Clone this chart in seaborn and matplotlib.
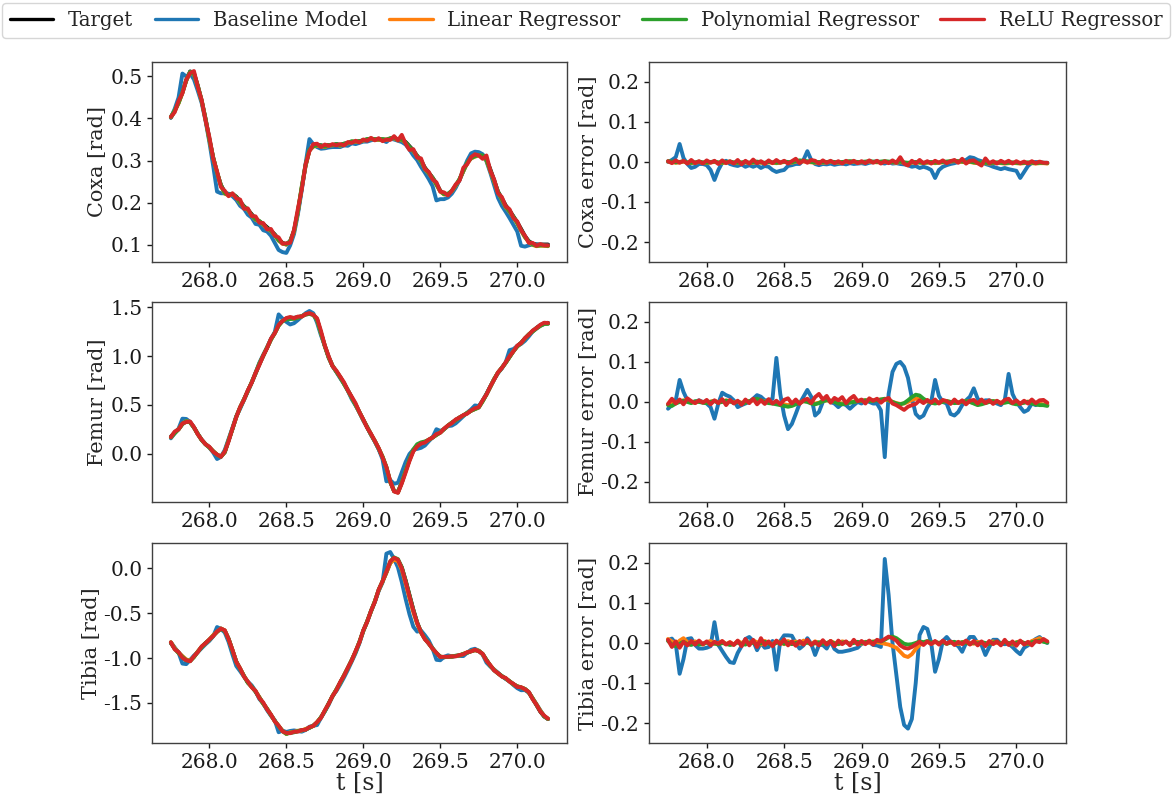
import numpy as np
import pandas as pd
import matplotlib
matplotlib.use("Agg")
import matplotlib.pyplot as plt
import seaborn as sns

# ---------------- data ----------------
t = np.round(267.75 + 0.025 * np.arange(99), 3)   # sample times [s]

models = ["Target", "Baseline Model", "Linear Regressor", "Polynomial Regressor", "ReLU Regressor"]
colors = ["#000000", "#1f77b4", "#ff7f0e", "#2ca02c", "#d62728"]
joints = ["Coxa", "Femur", "Tibia"]
xticks = [268.0, 268.5, 269.0, 269.5, 270.0]
value_yticks = {
    "Coxa": [0.1, 0.2, 0.3, 0.4, 0.5],
    "Femur": [0.0, 0.5, 1.0, 1.5],
    "Tibia": [-1.5, -1.0, -0.5, 0.0],
}
error_yticks = [-0.2, -0.1, 0.0, 0.1, 0.2]

coxa_target = [
    0.402, 0.418, 0.438, 0.462, 0.490, 0.512, 0.508, 0.478, 0.442, 0.400,
    0.352, 0.307, 0.271, 0.242, 0.224, 0.218, 0.220, 0.214, 0.202, 0.191,
    0.183, 0.172, 0.161, 0.155, 0.149, 0.141, 0.133, 0.124, 0.112, 0.104,
    0.100, 0.108, 0.133, 0.177, 0.234, 0.287, 0.324, 0.334, 0.337, 0.336,
    0.334, 0.337, 0.336, 0.339, 0.337, 0.340, 0.341, 0.344, 0.344, 0.346,
    0.348, 0.350, 0.350, 0.350, 0.350, 0.350, 0.348, 0.352, 0.354, 0.350,
    0.349, 0.344, 0.334, 0.324, 0.311, 0.300, 0.283, 0.271, 0.259, 0.245,
    0.228, 0.220, 0.220, 0.226, 0.238, 0.254, 0.275, 0.295, 0.305, 0.311,
    0.315, 0.313, 0.303, 0.279, 0.253, 0.226, 0.210, 0.193, 0.181, 0.167,
    0.153, 0.137, 0.120, 0.108, 0.102, 0.100, 0.100, 0.100, 0.100]
coxa_err_baseline = [
    0.000, 0.005, 0.012, 0.045, 0.010, -0.005, -0.015, -0.012, -0.005, -0.005,
    -0.008, -0.020, -0.045, -0.020, -0.002, 0.003, -0.005, -0.008, -0.010, -0.006,
    -0.012, -0.008, -0.012, -0.008, -0.015, -0.010, -0.012, -0.020, -0.025, -0.022,
    -0.020, -0.010, -0.008, -0.005, -0.005, 0.005, 0.027, 0.005, -0.005, -0.008,
    -0.005, -0.006, -0.004, -0.007, -0.005, -0.004, -0.006, -0.003, -0.005, -0.004,
    -0.003, -0.005, -0.002, 0.000, 0.002, -0.002, -0.004, 0.000, -0.004, -0.003,
    -0.005, -0.006, -0.008, -0.012, -0.010, -0.015, -0.012, -0.015, -0.020, -0.040,
    -0.020, -0.012, -0.008, -0.005, -0.003, 0.000, 0.003, 0.005, 0.012, 0.010,
    0.005, 0.002, -0.005, -0.008, -0.012, -0.015, -0.018, -0.015, -0.018, -0.020,
    -0.022, -0.040, -0.025, -0.010, -0.002, 0.000, -0.001, -0.002, -0.002]
coxa_err_linear = [
    0.001, 0.000, -0.002, -0.001, 0.001, -0.002, -0.003, -0.002, 0.000, -0.002,
    -0.003, -0.001, 0.000, -0.002, -0.003, -0.001, 0.000, -0.002, -0.003, -0.002,
    -0.001, -0.003, -0.002, 0.000, -0.002, -0.003, -0.001, -0.002, -0.003, -0.002,
    0.000, -0.001, -0.002, 0.001, 0.002, 0.001, 0.000, -0.001, -0.002, -0.001,
    -0.002, -0.001, 0.000, -0.001, -0.002, -0.001, 0.000, 0.001, 0.000, -0.001,
    -0.001, 0.000, 0.001, 0.000, -0.001, 0.000, 0.001, 0.000, -0.001, -0.002,
    0.000, -0.002, -0.003, -0.002, -0.001, -0.002, -0.003, -0.002, -0.001, -0.003,
    -0.002, -0.001, 0.000, 0.001, 0.002, 0.001, 0.000, -0.001, 0.000, -0.002,
    -0.003, -0.002, -0.003, -0.004, -0.003, -0.002, -0.003, -0.004, -0.003, -0.002,
    -0.003, -0.004, -0.003, -0.002, -0.003, -0.004, -0.003, -0.003, -0.004]
coxa_err_poly = [
    0.002, 0.001, -0.001, 0.000, 0.002, -0.001, -0.002, -0.001, 0.001, -0.001,
    -0.002, 0.000, 0.001, -0.001, -0.002, 0.000, 0.001, -0.001, -0.002, -0.001,
    0.000, -0.002, -0.001, 0.001, -0.001, -0.002, 0.000, -0.001, -0.002, -0.001,
    0.001, 0.000, -0.001, 0.002, 0.004, 0.003, 0.002, 0.000, -0.001, 0.000,
    -0.001, 0.000, 0.001, 0.000, -0.001, 0.000, 0.001, 0.002, 0.001, 0.000,
    0.000, 0.001, 0.002, 0.001, 0.000, 0.001, 0.002, 0.001, 0.000, -0.001,
    0.001, -0.001, -0.002, -0.001, 0.000, -0.001, -0.002, -0.001, 0.000, -0.002,
    -0.001, 0.000, 0.001, 0.002, 0.003, 0.002, 0.001, 0.000, 0.001, -0.001,
    -0.002, -0.001, -0.002, -0.003, -0.002, -0.001, -0.002, -0.003, -0.002, -0.001,
    -0.002, -0.003, -0.002, -0.001, -0.002, -0.003, -0.002, -0.002, -0.003]
coxa_err_relu = [
    0.002, -0.003, 0.004, -0.002, 0.003, -0.004, 0.005, -0.003, 0.002, -0.004,
    0.004, -0.002, 0.003, -0.005, 0.004, -0.003, 0.002, -0.004, 0.005, -0.006,
    0.003, -0.004, 0.006, -0.003, 0.002, -0.005, 0.004, -0.003, 0.005, -0.002,
    0.003, -0.004, 0.002, 0.008, -0.003, 0.004, -0.002, 0.005, 0.003, -0.004,
    0.004, -0.002, 0.003, -0.003, 0.002, -0.004, 0.003, -0.002, 0.003, -0.003,
    0.002, -0.003, 0.004, -0.002, 0.003, -0.004, 0.002, -0.003, 0.004, -0.002,
    0.012, -0.004, -0.009, 0.003, -0.004, 0.005, -0.003, 0.002, -0.004, 0.003,
    -0.002, 0.004, -0.003, 0.002, 0.005, -0.002, 0.008, -0.004, 0.003, 0.004,
    -0.003, -0.009, 0.009, -0.003, 0.002, -0.004, 0.003, -0.002, 0.003, -0.004,
    0.002, -0.003, 0.001, -0.004, 0.002, -0.003, 0.001, -0.002, -0.002]

femur_target = [
    0.176, 0.220, 0.254, 0.305, 0.332, 0.322, 0.271, 0.203, 0.142, 0.100,
    0.068, 0.027, -0.010, -0.027, 0.017, 0.136, 0.254, 0.380, 0.475, 0.559,
    0.644, 0.729, 0.820, 0.915, 1.000, 1.085, 1.170, 1.237, 1.315, 1.363,
    1.383, 1.390, 1.390, 1.397, 1.407, 1.424, 1.430, 1.424, 1.373, 1.237,
    1.102, 0.983, 0.898, 0.841, 0.786, 0.719, 0.651, 0.576, 0.502, 0.424,
    0.346, 0.271, 0.197, 0.129, 0.051, -0.034, -0.142, -0.288, -0.380, -0.390,
    -0.288, -0.170, -0.061, 0.034, 0.081, 0.102, 0.119, 0.142, 0.169, 0.197,
    0.220, 0.254, 0.288, 0.319, 0.346, 0.373, 0.393, 0.417, 0.441, 0.461,
    0.481, 0.542, 0.610, 0.685, 0.763, 0.830, 0.881, 0.932, 0.990, 1.051,
    1.102, 1.136, 1.180, 1.220, 1.254, 1.288, 1.315, 1.335, 1.339]
femur_err_baseline = [
    -0.017, -0.008, 0.004, 0.055, 0.025, 0.004, 0.000, 0.000, 0.004, 0.000,
    -0.004, -0.013, -0.042, -0.004, 0.023, 0.017, 0.013, 0.004, -0.013, -0.008,
    -0.004, 0.000, 0.008, 0.017, 0.013, 0.004, 0.004, 0.008, 0.110, 0.020,
    -0.034, -0.068, -0.055, -0.030, -0.004, 0.013, 0.030, 0.013, -0.034, -0.025,
    0.000, 0.008, 0.000, -0.004, -0.013, -0.004, -0.008, -0.017, -0.008, 0.000,
    -0.004, 0.004, 0.000, -0.004, -0.004, -0.021, -0.138, 0.020, 0.075, 0.095,
    0.100, 0.088, 0.060, 0.010, -0.030, -0.040, -0.034, -0.013, 0.000, 0.055,
    0.015, 0.000, -0.004, -0.030, -0.034, -0.025, -0.008, 0.004, 0.013, 0.034,
    0.008, 0.000, 0.004, 0.004, 0.000, -0.004, -0.008, 0.004, 0.070, 0.020,
    0.000, -0.013, -0.025, -0.020, -0.004, -0.008, -0.004, -0.008, -0.008]
femur_err_linear = [
    -0.006, -0.004, -0.002, 0.002, 0.004, 0.002, 0.000, -0.002, 0.001, 0.000,
    -0.002, 0.001, 0.003, -0.001, 0.001, 0.004, 0.002, -0.001, 0.001, -0.002,
    -0.001, 0.002, 0.004, 0.006, 0.003, 0.001, -0.002, -0.003, -0.004, -0.005,
    -0.006, -0.008, -0.006, -0.004, -0.001, 0.002, 0.001, -0.002, -0.004, -0.002,
    0.002, 0.004, 0.003, 0.001, -0.002, -0.004, -0.003, -0.001, 0.001, 0.002,
    0.003, 0.004, 0.003, 0.004, 0.005, 0.006, 0.006, 0.004, 0.000, -0.003,
    -0.005, -0.004, 0.000, 0.005, 0.008, 0.007, 0.004, 0.001, -0.001, -0.003,
    -0.001, 0.001, 0.002, 0.000, -0.002, -0.001, 0.001, 0.002, 0.000, -0.003,
    -0.005, -0.004, -0.002, 0.000, 0.002, 0.001, -0.002, -0.001, 0.001, -0.002,
    -0.004, -0.003, -0.001, 0.001, -0.002, -0.004, -0.005, -0.006, -0.007]
femur_err_poly = [
    -0.008, -0.010, -0.004, 0.000, 0.003, 0.000, -0.003, 0.002, 0.000, -0.002,
    -0.003, 0.000, 0.002, -0.002, 0.000, 0.003, 0.001, -0.002, 0.000, -0.003,
    -0.002, 0.002, 0.005, 0.008, 0.004, 0.000, -0.003, -0.004, -0.006, -0.008,
    -0.010, -0.012, -0.010, -0.006, -0.002, 0.002, 0.000, -0.004, -0.006, -0.003,
    0.002, 0.004, 0.003, 0.000, -0.004, -0.006, -0.004, -0.002, 0.000, 0.002,
    0.003, 0.004, 0.002, 0.003, 0.004, 0.006, 0.008, 0.005, 0.000, -0.004,
    -0.006, -0.003, 0.004, 0.012, 0.018, 0.016, 0.008, 0.002, -0.002, -0.004,
    -0.002, 0.000, 0.002, 0.000, -0.003, -0.002, 0.000, 0.002, 0.000, -0.004,
    -0.008, -0.006, -0.003, 0.000, 0.002, 0.000, -0.003, -0.002, 0.000, -0.004,
    -0.006, -0.004, -0.002, 0.000, -0.004, -0.006, -0.008, -0.008, -0.010]
femur_err_relu = [
    -0.005, 0.008, -0.004, 0.006, -0.006, 0.009, 0.002, -0.003, 0.004, -0.002,
    0.005, -0.006, 0.004, -0.003, 0.007, -0.008, 0.005, -0.004, 0.003, -0.007,
    0.006, -0.003, 0.008, -0.006, 0.004, -0.005, 0.007, -0.004, 0.003, -0.006,
    0.005, 0.009, -0.004, 0.006, -0.005, 0.004, 0.008, -0.003, 0.012, 0.020,
    0.006, 0.015, -0.002, 0.010, 0.004, 0.012, -0.003, 0.008, 0.015, 0.002,
    0.006, -0.004, 0.009, 0.003, 0.008, -0.002, 0.006, 0.010, -0.004, -0.008,
    -0.014, -0.020, -0.012, -0.008, -0.005, 0.004, -0.003, 0.005, -0.002, 0.006,
    -0.004, 0.005, 0.002, -0.005, 0.006, -0.003, 0.004, -0.006, 0.003, 0.005,
    -0.004, 0.006, -0.003, 0.004, -0.005, 0.003, -0.004, 0.005, 0.008, -0.003,
    0.004, -0.005, 0.003, -0.004, 0.006, -0.003, 0.004, 0.005, -0.002]

tibia_target = [
    -0.833, -0.894, -0.938, -0.985, -1.028, -1.031, -0.985, -0.930, -0.876, -0.833,
    -0.797, -0.750, -0.707, -0.671, -0.696, -0.786, -0.912, -1.039, -1.122, -1.200,
    -1.273, -1.320, -1.374, -1.439, -1.507, -1.569, -1.634, -1.699, -1.760, -1.814,
    -1.843, -1.832, -1.825, -1.814, -1.807, -1.796, -1.778, -1.753, -1.717, -1.662,
    -1.590, -1.507, -1.428, -1.352, -1.273, -1.194, -1.111, -1.021, -0.930, -0.822,
    -0.696, -0.595, -0.480, -0.371, -0.245, -0.148, -0.047, 0.061, 0.105, 0.090,
    0.007, -0.137, -0.299, -0.462, -0.606, -0.714, -0.786, -0.840, -0.894, -0.948,
    -0.985, -0.992, -0.985, -0.985, -0.977, -0.970, -0.956, -0.941, -0.923, -0.912,
    -0.920, -0.956, -1.021, -1.085, -1.136, -1.172, -1.201, -1.230, -1.259, -1.291,
    -1.316, -1.331, -1.345, -1.381, -1.453, -1.525, -1.598, -1.652, -1.680]
tibia_err_baseline = [
    0.007, 0.011, -0.002, -0.077, -0.040, 0.010, 0.012, -0.005, -0.014, -0.014,
    -0.012, -0.008, 0.052, -0.005, -0.020, -0.035, -0.048, -0.050, -0.025, -0.008,
    0.010, 0.015, 0.005, -0.018, 0.000, -0.012, -0.010, 0.005, -0.067, 0.005,
    0.019, 0.019, 0.018, 0.000, -0.014, -0.006, 0.012, -0.002, -0.030, -0.005,
    -0.005, -0.014, 0.005, -0.015, -0.022, -0.022, -0.020, -0.018, -0.015, -0.012,
    -0.002, 0.000, 0.002, -0.005, -0.006, -0.010, 0.210, 0.120, 0.000, -0.080,
    -0.160, -0.205, -0.214, -0.190, -0.100, 0.020, 0.040, 0.035, 0.000, -0.072,
    -0.040, 0.005, 0.015, 0.003, -0.002, -0.008, -0.022, 0.000, 0.015, 0.015,
    0.000, -0.005, -0.030, -0.010, 0.008, 0.008, -0.002, -0.003, -0.002, -0.010,
    -0.020, -0.028, -0.012, -0.006, 0.002, 0.010, 0.015, 0.005, 0.000]
tibia_err_linear = [
    0.010, 0.004, -0.004, 0.006, 0.012, 0.002, -0.003, 0.004, 0.000, -0.004,
    0.002, 0.005, -0.002, 0.000, 0.004, -0.003, 0.002, -0.004, 0.005, 0.000,
    0.004, -0.003, 0.006, 0.002, -0.004, 0.005, 0.000, -0.003, 0.004, 0.002,
    -0.003, 0.005, 0.000, 0.004, -0.002, 0.006, 0.002, -0.003, 0.004, 0.000,
    0.003, -0.002, 0.005, 0.000, -0.003, 0.004, 0.002, -0.002, 0.004, 0.001,
    -0.002, 0.003, 0.000, 0.004, 0.002, 0.000, -0.002, -0.004, -0.008, -0.012,
    -0.022, -0.032, -0.035, -0.028, -0.015, -0.005, 0.000, 0.003, -0.002, 0.002,
    0.000, 0.003, -0.002, 0.002, 0.000, -0.003, 0.002, 0.004, 0.000, -0.002,
    0.003, 0.000, -0.003, 0.002, 0.004, 0.000, -0.002, 0.003, 0.000, -0.004,
    0.002, 0.004, 0.000, -0.003, 0.005, 0.008, 0.012, 0.006, 0.002]
tibia_err_poly = [
    0.005, -0.004, -0.008, -0.002, 0.003, -0.003, -0.005, 0.000, -0.004, -0.002,
    0.001, -0.003, -0.001, -0.004, 0.000, -0.002, -0.005, -0.003, 0.001, -0.002,
    -0.004, 0.002, 0.000, -0.003, -0.001, 0.003, -0.002, -0.004, 0.000, 0.002,
    -0.002, 0.001, -0.003, 0.000, 0.002, -0.002, 0.001, -0.003, -0.001, 0.002,
    -0.002, 0.000, 0.003, -0.001, -0.003, 0.001, 0.002, -0.002, 0.000, 0.003,
    -0.001, 0.002, 0.004, 0.002, 0.006, 0.004, 0.008, 0.014, 0.016, 0.012,
    0.005, -0.002, -0.004, -0.003, 0.000, 0.004, 0.002, 0.005, 0.001, 0.003,
    0.000, 0.002, -0.002, 0.001, 0.003, -0.001, 0.002, 0.000, -0.002, 0.001,
    -0.001, 0.002, 0.000, -0.003, 0.001, 0.003, -0.001, 0.002, 0.000, -0.002,
    0.001, 0.003, 0.000, -0.002, 0.002, 0.004, 0.006, 0.003, 0.001]
tibia_err_relu = [
    0.008, -0.010, 0.004, -0.012, 0.003, -0.006, 0.005, -0.004, 0.006, -0.003,
    0.004, -0.006, 0.003, -0.002, 0.005, -0.004, 0.002, -0.005, 0.006, -0.008,
    0.010, -0.006, 0.008, -0.010, 0.012, -0.005, 0.004, -0.008, 0.006, -0.003,
    0.009, -0.006, 0.004, -0.007, 0.005, -0.004, 0.008, -0.005, 0.003, -0.006,
    0.007, -0.004, 0.005, -0.008, 0.006, -0.003, 0.004, -0.006, 0.008, -0.004,
    0.005, -0.003, 0.006, -0.004, 0.008, 0.004, 0.010, 0.016, 0.012, 0.006,
    -0.006, -0.012, -0.014, -0.010, -0.004, 0.003, -0.005, 0.004, -0.003, 0.005,
    -0.004, 0.006, -0.002, 0.004, -0.005, 0.003, -0.003, 0.006, -0.004, 0.005,
    -0.006, 0.004, -0.008, 0.005, -0.003, 0.004, -0.006, 0.008, -0.005, 0.004,
    -0.007, 0.006, -0.004, 0.003, -0.006, 0.005, 0.002, 0.010, 0.004]

# ---------------- build long-form tables ----------------
joint_data = {
    "Coxa": (coxa_target, [coxa_err_baseline, coxa_err_linear, coxa_err_poly, coxa_err_relu]),
    "Femur": (femur_target, [femur_err_baseline, femur_err_linear, femur_err_poly, femur_err_relu]),
    "Tibia": (tibia_target, [tibia_err_baseline, tibia_err_linear, tibia_err_poly, tibia_err_relu]),
}
for name, (tg, errs) in joint_data.items():
    assert len(tg) == len(t), (name, len(tg))
    for e in errs:
        assert len(e) == len(t), (name, len(e))

sns.set_theme(style="white")
plt.rcParams["font.family"] = ["DejaVu Serif"]
plt.rcParams["mathtext.fontset"] = "dejavuserif"
plt.rcParams["axes.edgecolor"] = "0.25"
plt.rcParams["axes.linewidth"] = 1.0
plt.rcParams["xtick.bottom"] = True
plt.rcParams["ytick.left"] = True
plt.rcParams["xtick.color"] = "0.1"
plt.rcParams["ytick.color"] = "0.1"

palette = dict(zip(models, colors))
LW = 2.8
TICK_FS = 14.5
LABEL_FS = 15

fig = plt.figure(figsize=(11.72, 7.94), dpi=100)
row_bottoms = [0.670, 0.3678, 0.0642]
H = 0.252

for r, name in enumerate(joints):
    tg, errs = joint_data[name]
    tg = np.asarray(tg)
    # predictions = target + error
    rows_val = [pd.DataFrame({"t": t, "value": tg, "model": "Target"})]
    rows_err = []
    for m, e in zip(models[1:], errs):
        e = np.asarray(e)
        rows_val.append(pd.DataFrame({"t": t, "value": tg + e, "model": m}))
        rows_err.append(pd.DataFrame({"t": t, "value": e, "model": m}))
    dval = pd.concat(rows_val, ignore_index=True)
    derr = pd.concat(rows_err, ignore_index=True)

    axl = fig.add_axes([0.1297, row_bottoms[r], 0.354, H])
    axr = fig.add_axes([0.5538, row_bottoms[r], 0.356, H])

    sns.lineplot(data=dval, x="t", y="value", hue="model", hue_order=models,
                 palette=palette, estimator=None, sort=False, linewidth=LW,
                 legend=False, ax=axl)
    sns.lineplot(data=derr, x="t", y="value", hue="model", hue_order=models[1:],
                 palette=palette, estimator=None, sort=False, linewidth=LW,
                 legend=False, ax=axr)

    axl.set_yticks(value_yticks[name])
    axl.set_yticklabels([f"{v:.1f}" for v in value_yticks[name]])
    axr.set_ylim(-0.25, 0.25)
    axr.set_yticks(error_yticks)
    axr.set_yticklabels([f"{v:.1f}" for v in error_yticks])
    axl.set_ylabel(f"{name} [rad]", fontsize=LABEL_FS, labelpad=2)
    axr.set_ylabel(f"{name} error [rad]", fontsize=LABEL_FS, labelpad=2)
    for ax in (axl, axr):
        ax.set_xticks(xticks)
        ax.set_xticklabels([f"{v:.1f}" for v in xticks])
        ax.tick_params(labelsize=TICK_FS, length=3.5, width=1)
        ax.set_xlim(267.6275, 270.3225)
        if r == 2:
            ax.set_xlabel("t [s]", fontsize=17, labelpad=0)
        else:
            ax.set_xlabel("")
        for sp in ax.spines.values():
            sp.set_visible(True)

handles = [plt.Line2D([0], [0], color=c, lw=2.4) for c in colors]
fig.legend(handles, models, loc="upper center", bbox_to_anchor=(0.5, 1.0),
           ncol=5, fontsize=14.2, frameon=True, fancybox=True, edgecolor="0.8",
           columnspacing=1.1, handlelength=2.2, handletextpad=0.75,
           borderaxespad=0.15)

fig.savefig("out.png", dpi=100)
